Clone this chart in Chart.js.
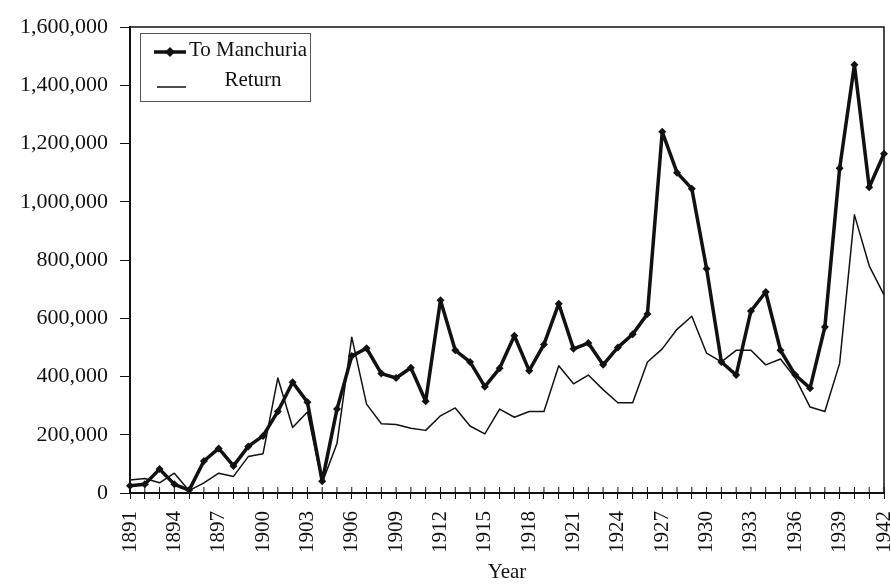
<!DOCTYPE html>
<html>
<head>
<meta charset="utf-8">
<script src="https://cdn.jsdelivr.net/npm/chart.js@4/dist/chart.umd.min.js"></script>
<style>
  html, body { margin: 0; padding: 0; background: #fff; overflow: hidden; }
</style>
</head>
<body>
<canvas id="migration" width="891" height="585"></canvas>
<script>
// years on the x axis
const years = [
    "1891", "1892", "1893", "1894", "1895", "1896", "1897", "1898", "1899", "1900",
    "1901", "1902", "1903", "1904", "1905", "1906", "1907", "1908", "1909", "1910",
    "1911", "1912", "1913", "1914", "1915", "1916", "1917", "1918", "1919", "1920",
    "1921", "1922", "1923", "1924", "1925", "1926", "1927", "1928", "1929", "1930",
    "1931", "1932", "1933", "1934", "1935", "1936", "1937", "1938", "1939", "1940",
    "1941", "1942"
];

// people going to Manchuria
const toManchuria = [
    25000, 30000, 82000, 30000, 10000, 110000, 153000, 93000, 160000, 196000,
    280000, 380000, 312000, 40000, 288000, 470000, 497000, 410000, 395000, 430000,
    315000, 662000, 490000, 450000, 365000, 428000, 540000, 420000, 510000, 650000,
    495000, 515000, 440000, 500000, 545000, 615000, 1240000, 1100000, 1045000, 770000,
    450000, 405000, 625000, 690000, 490000, 405000, 360000, 570000, 1115000, 1470000,
    1050000, 1165000
];

// people coming back
const returned = [
    45000, 50000, 35000, 68000, 8000, 35000, 68000, 57000, 125000, 135000,
    395000, 225000, 278000, 35000, 170000, 535000, 305000, 238000, 235000, 222000,
    215000, 265000, 292000, 230000, 203000, 288000, 260000, 280000, 280000, 437000,
    375000, 405000, 355000, 310000, 310000, 450000, 495000, 562000, 607000, 480000,
    450000, 490000, 490000, 440000, 460000, 395000, 295000, 280000, 445000, 955000,
    780000, 680000
];

const yTicks = [0, 200000, 400000, 600000, 800000, 1000000, 1200000, 1400000, 1600000];

const SERIF = "'Liberation Serif', 'Times New Roman', serif";
const INK = "#111";

//frame on top/right, cross ticks on the x axis and the legend box
const extras = {
    id : "extras",
    afterDraw(chart) {
        const ctx = chart.ctx;
        const a = chart.chartArea;
        const xs = chart.scales.x;
        ctx.save();
        ctx.strokeStyle = INK;
        ctx.lineWidth = 1.5;
        ctx.beginPath();
        ctx.moveTo(a.left, a.top);
        ctx.lineTo(a.right, a.top);
        ctx.lineTo(a.right, a.bottom);
        ctx.stroke();

        ctx.lineWidth = 1;
        for (let i = 0; i < years.length; i++) {
            const x = xs.getPixelForTick(i);
            ctx.beginPath();
            ctx.moveTo(x, a.bottom - 6);
            ctx.lineTo(x, a.bottom);
            ctx.stroke();
        }

        // legend
        ctx.strokeStyle = "#555";
        ctx.lineWidth = 1;
        ctx.strokeRect(140.5, 33.5, 170, 68);

        ctx.strokeStyle = INK;
        ctx.lineWidth = 3.5;
        ctx.beginPath();
        ctx.moveTo(154, 52);
        ctx.lineTo(186, 52);
        ctx.stroke();
        ctx.fillStyle = INK;
        ctx.beginPath();
        ctx.moveTo(170, 47);
        ctx.lineTo(175, 52);
        ctx.lineTo(170, 57);
        ctx.lineTo(165, 52);
        ctx.closePath();
        ctx.fill();

        ctx.lineWidth = 1.5;
        ctx.beginPath();
        ctx.moveTo(157, 87);
        ctx.lineTo(186, 87);
        ctx.stroke();

        ctx.font = "21px " + SERIF;
        ctx.textBaseline = "middle";
        ctx.textAlign = "center";
        ctx.fillText("To Manchuria", 248, 50);
        ctx.fillText("Return", 253, 80);
        ctx.restore();
    }
};

new Chart("migration", {
    type : "line",
    data : {
        labels : years,
        datasets : [
            {
                label : "To Manchuria",
                data : toManchuria,
                borderColor : INK,
                backgroundColor : INK,
                borderWidth : 3.5,
                borderJoinStyle : "round",
                borderCapStyle : "round",
                pointStyle : "rectRot",
                pointRadius : 4,
                pointBorderWidth : 0,
                tension : 0
            },
            {
                label : "Return",
                data : returned,
                borderColor : INK,
                borderWidth : 1.5,
                borderJoinStyle : "round",
                pointRadius : 0,
                tension : 0
            }
        ]
    },
    options : {
        responsive : false,
        animation : false,
        layout : { padding : { top : 27, right : 7, left : 0, bottom : 0 } },
        plugins : {
            legend : { display : false },
            tooltip : { enabled : false }
        },
        scales : {
            x : {
                offset : false,
                grid : { drawOnChartArea : false, tickLength : 6, color : INK, lineWidth : 1 },
                border : { color : INK, width : 2 },
                ticks : {
                    autoSkip : false,
                    minRotation : 90,
                    maxRotation : 90,
                    padding : 12,
                    color : INK,
                    font : { family : SERIF, size : 21 },
                    callback : function(value, index) {
                        return index % 3 === 0 ? this.getLabelForValue(value) : "";
                    }
                },
                title : {
                    display : true,
                    text : "Year",
                    color : INK,
                    font : { family : SERIF, size : 21 },
                    padding : { top : 0, bottom : 0 }
                },
                afterFit(scale) {
                    scale.height = 92;
                    scale.paddingLeft = 0;
                    scale.paddingRight = 0;
                }
            },
            y : {
                min : 0,
                max : 1600000,
                afterBuildTicks(scale) {
                    scale.ticks = yTicks.map(v => ({ value : v }));
                },
                grid : { drawOnChartArea : false, tickLength : 10, color : INK, lineWidth : 1 },
                border : { color : INK, width : 2 },
                ticks : {
                    padding : 12,
                    color : INK,
                    font : { family : SERIF, size : 22 },
                    callback : v => v.toLocaleString("en-US")
                },
                afterFit(scale) {
                    scale.width = 130;
                }
            }
        }
    },
    plugins : [extras]
});
</script>
</body>
</html>
